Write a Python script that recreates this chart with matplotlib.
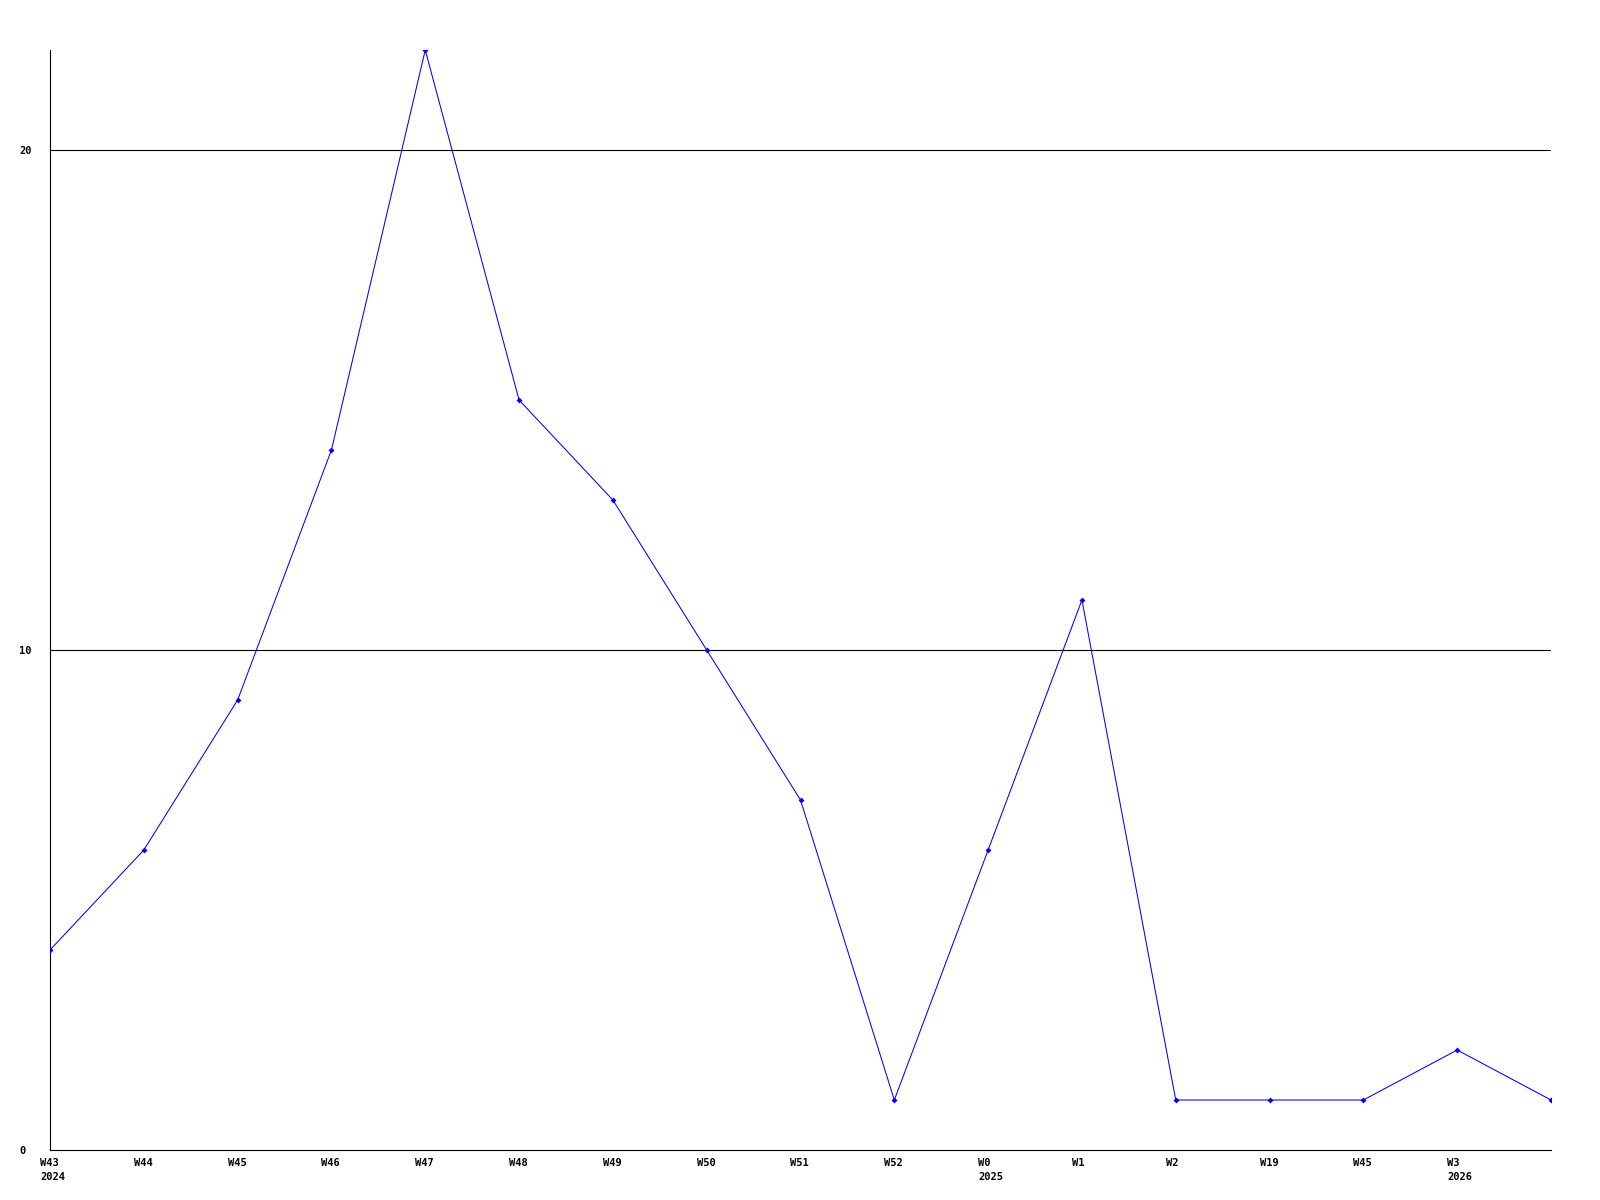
import matplotlib
matplotlib.use("Agg")
import matplotlib.pyplot as plt
import matplotlib.transforms as mtransforms

weeks = ["W43", "W44", "W45", "W46", "W47", "W48", "W49", "W50", "W51",
         "W52", "W0", "W1", "W2", "W19", "W45", "W3", ""]
years = ["2024", "", "", "", "", "", "", "", "", "", "2025", "", "", "", "", "2026", ""]
values = [4, 6, 9, 14, 22, 15, 13, 10, 7, 1, 6, 11, 1, 1, 1, 2, 1]
yticks = [0, 10, 20]

font = dict(family="DejaVu Sans Mono", weight="bold", size=7.5)

fig = plt.figure(figsize=(16, 12), dpi=100)
ax = fig.add_axes([50 / 1600, 50 / 1200, 1501 / 1600, 1100 / 1200])

x = list(range(len(values)))
ax.plot(x, values, color="#0000ff", linewidth=0.75, marker="D", markersize=3,
        markeredgewidth=0, zorder=3)

ax.set_xlim(0, len(values) - 1)
ax.set_ylim(0, 22)

for y in yticks[1:]:
    ax.axhline(y, color="black", linewidth=0.8, zorder=1)

for s in ["top", "right"]:
    ax.spines[s].set_visible(False)
for s in ["left", "bottom"]:
    ax.spines[s].set_linewidth(0.8)

ax.set_yticks(yticks)
ax.set_yticklabels([str(v) for v in yticks], ha="left", **font)
ax.tick_params(axis="y", length=0, pad=22)
ax.set_xticks([])

off = mtransforms.offset_copy(ax.transData, fig=fig, x=-10, y=-8, units="dots")
for i, (w, yr) in enumerate(zip(weeks, years)):
    label = w if not yr else w + "\n" + yr
    ax.text(i, 0, label, transform=off, ha="left", va="top",
            linespacing=1.55, clip_on=False, **font)

fig.savefig("out.png", dpi=100)
